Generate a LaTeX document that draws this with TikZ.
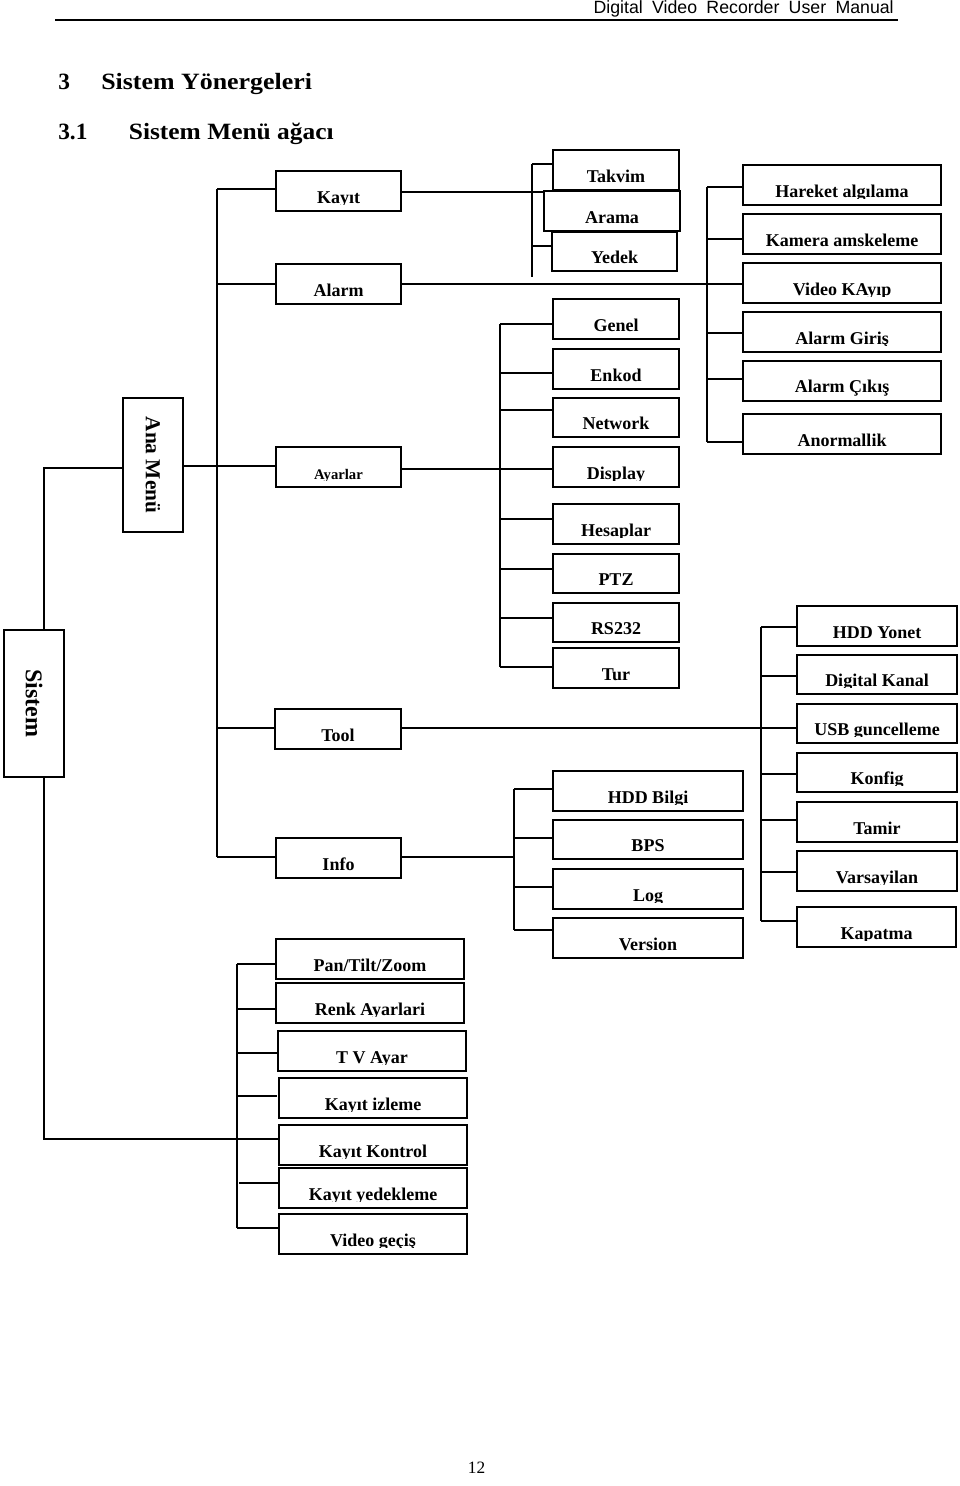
\documentclass[tikz,border=0pt]{standalone}
\usepackage{fontspec}
\usepackage{graphicx}
\setmainfont{Liberation Serif}
\newfontfamily\hdrfont{Liberation Sans}
\usetikzlibrary{calc}
\tikzset{
  boxshape/.style={draw, line width=1.3pt, inner sep=0pt},
  btxt/.style={font=\fontsize{13.5}{15}\selectfont\bfseries, inner sep=0pt},
  stxt/.style={font=\fontsize{11}{13}\selectfont\bfseries, inner sep=0pt},
  conn/.style={line width=1.1pt},
  headtxt/.style={font=\fontsize{17.5}{20}\selectfont\bfseries, inner sep=0pt, anchor=base west},
}
% #1 text style, #2 name, #3 x1, #4 y1, #5 x2, #6 y2, #7 text
\newcommand\mybox[7][btxt]{%
  \pgfmathsetmacro\bw{(#5-#3)*0.75}%
  \pgfmathsetmacro\bh{(#6-#4)*0.75}%
  \node[boxshape, minimum width=\bw pt, minimum height=\bh pt] (#2) at ({(#3+#5)/2},{(#4+#6)/2}) {};%
  \begin{scope}
    \clip (#2.north west) rectangle ($(#2.south east)+(0,-7.6)$);
    \node[#1, anchor=base] (#2t) at ($(#2.south)+(0,-8.5)$) {#7};
  \end{scope}}
\begin{document}
\begin{tikzpicture}[x=0.75pt, y=-0.75pt]
\useasboundingbox (0,0) rectangle (960,1486);

% header
\node[anchor=base east, inner sep=0pt, font=\hdrfont\fontsize{13.3}{15}\selectfont] (hdr) at (894,13.5)
  {Digital\hspace{7pt}Video\hspace{7pt}Recorder\hspace{7pt}User\hspace{7pt}Manual};
\coordinate (rl) at (55,20);
\coordinate (rr) at (898,20);
\draw[line width=1.4pt] (rl) -- (rr);

% headings
\node[headtxt] (h1n) at (58,89) {3};
\node[headtxt] (h1) at (101,89) {\scalebox{1.11}[1]{Sistem Yönergeleri}};
\node[headtxt] (h2n) at (58,139) {3.1};
\node[headtxt] (h2) at (128.6,139) {\scalebox{1.09}[1]{Sistem Menü ağacı}};

% rotated boxes
\node[boxshape, minimum width=45pt, minimum height=100.5pt] (ana) at (153,465)
  {\rotatebox{-90}{\fontsize{16}{18}\selectfont\bfseries Ana Menü}};
\node[boxshape, minimum width=45pt, minimum height=110.25pt] (sistem) at (34,703.5)
  {\rotatebox{-90}{\fontsize{18}{20}\selectfont\bfseries Sistem}};

% level 1
\mybox{kayit}{276}{171}{401}{211}{Kayıt}
\mybox{alarm}{276}{264}{401}{304}{Alarm}
\mybox[stxt]{ayarlar}{276}{447}{401}{487}{Ayarlar}
\mybox{tool}{275}{709}{401}{749}{Tool}
\mybox{info}{276}{838}{401}{878}{Info}

% Kayit children
\mybox{takvim}{553}{150}{679}{190}{Takvim}
\mybox{arama}{544}{191}{680}{231}{Arama}
\mybox{yedek}{552}{232}{677}{271}{Yedek}

% Alarm children
\mybox{hareket}{743}{165}{941}{205}{Hareket algılama}
\mybox{kamera}{743}{214}{941}{254}{Kamera amskeleme}
\mybox{video}{743}{263}{941}{303}{Video KAyıp}
\mybox{giris}{743}{312}{941}{352}{Alarm Giriş}
\node[boxshape, minimum width=148.5pt, minimum height=30pt] (cikis) at (842,381) {};
\node[btxt, anchor=base] (cikist) at ($(cikis.south)+(0,-9)$) {Alarm Çıkış};
\mybox{anorm}{743}{414}{941}{454}{Anormallik}

% Ayarlar children
\mybox{genel}{553}{299}{679}{339}{Genel}
\mybox{enkod}{553}{349}{679}{389}{Enkod}
\mybox{network}{553}{398}{679}{437}{Network}
\mybox{display}{553}{447}{679}{487}{Display}
\mybox{hesaplar}{553}{504}{679}{544}{Hesaplar}
\mybox{ptz}{553}{554}{679}{593}{PTZ}
\mybox{rs}{553}{603}{679}{642}{RS232}
\mybox{tur}{553}{648}{679}{688}{Tur}

% Tool children
\mybox{hddy}{797}{606}{957}{646}{HDD Yonet}
\mybox{digital}{797}{655}{957}{694}{Digital Kanal}
\mybox{usb}{797}{704}{957}{743}{USB guncelleme}
\mybox{konfig}{797}{753}{957}{792}{Konfig}
\mybox{tamir}{797}{802}{957}{842}{Tamir}
\mybox{vars}{797}{851}{957}{891}{Varsayilan}
\mybox{kapat}{797}{907}{956}{947}{Kapatma}

% Info children
\mybox{hddb}{553}{771}{743}{811}{HDD Bilgi}
\mybox{bps}{553}{820}{743}{859}{BPS}
\mybox{log}{553}{869}{743}{909}{Log}
\mybox{version}{553}{918}{743}{958}{Version}

% Sistem children
\mybox{ptzz}{276}{939}{464}{979}{Pan/Tilt/Zoom}
\mybox{renk}{276}{983}{464}{1023}{Renk Ayarlari}
\mybox{tv}{278}{1031}{466}{1071}{T V Ayar}
\mybox{izleme}{279}{1078}{467}{1118}{Kayıt izleme}
\mybox{kkontrol}{279}{1125}{467}{1165}{Kayıt Kontrol}
\mybox{kyedek}{279}{1168}{467}{1208}{Kayıt yedekleme}
\mybox{vgecis}{279}{1214}{467}{1254}{Video geçiş}

% page number
\node[anchor=base, inner sep=0pt, font=\fontsize{13}{15}\selectfont] (pg) at (476.5,1473) {12};

% ---- connectors ----
% Sistem
\draw[conn] (sistem.north -| 44,0) -- (44,468) -- (ana.west |- 0,468);
\draw[conn] (sistem.south -| 44,0) -- (44,1139) -- (kkontrol.west |- 0,1139);

% main trunk
\coordinate (mtop) at (217,189);
\coordinate (mbot) at (217,857);
\draw[conn] (mtop) -- (mbot);
\draw[conn] (mtop) -- (kayit.west |- mtop);
\draw[conn] (217,284) -- (alarm.west |- 0,284);
\draw[conn] (ana.east |- 0,466) -- (ayarlar.west |- 0,466);
\draw[conn] (217,728) -- (tool.west |- 0,728);
\draw[conn] (mbot) -- (info.west |- mbot);

% Kayit bracket
\coordinate (kt) at (532,164);
\coordinate (kb) at (532,277);
\draw[conn] (kt) -- (kb);
\draw[conn] (kt) -- (takvim.west |- kt);
\draw[conn] (kayit.east |- 0,192) -- (arama.west |- 0,192);
\draw[conn] (532,246) -- (yedek.west |- 0,246);

% Alarm bracket
\coordinate (at) at (707,187);
\coordinate (ab) at (707,442);
\draw[conn] (at) -- (ab);
\draw[conn] (alarm.east |- 0,284) -- (video.west |- 0,284);
\draw[conn] (at) -- (hareket.west |- at);
\draw[conn] (707,239) -- (kamera.west |- 0,239);
\draw[conn] (707,333) -- (giris.west |- 0,333);
\draw[conn] (707,379) -- (cikis.west |- 0,379);
\draw[conn] (ab) -- (anorm.west |- ab);

% Ayarlar bracket
\coordinate (yt) at (500,324);
\coordinate (yb) at (500,667);
\draw[conn] (yt) -- (yb);
\draw[conn] (ayarlar.east |- 0,469) -- (display.west |- 0,469);
\draw[conn] (yt) -- (genel.west |- yt);
\draw[conn] (500,373) -- (enkod.west |- 0,373);
\draw[conn] (500,410) -- (network.west |- 0,410);
\draw[conn] (500,519) -- (hesaplar.west |- 0,519);
\draw[conn] (500,569) -- (ptz.west |- 0,569);
\draw[conn] (500,618) -- (rs.west |- 0,618);
\draw[conn] (yb) -- (tur.west |- yb);

% Tool bracket
\coordinate (tt) at (761,627);
\coordinate (tb) at (761,921);
\draw[conn] (tt) -- (tb);
\draw[conn] (tool.east |- 0,728) -- (usb.west |- 0,728);
\draw[conn] (tt) -- (hddy.west |- tt);
\draw[conn] (761,676) -- (digital.west |- 0,676);
\draw[conn] (761,774) -- (konfig.west |- 0,774);
\draw[conn] (761,820) -- (tamir.west |- 0,820);
\draw[conn] (761,872) -- (vars.west |- 0,872);
\draw[conn] (tb) -- (kapat.west |- tb);

% Info bracket
\coordinate (it) at (514,789);
\coordinate (ib) at (514,930);
\draw[conn] (it) -- (ib);
\draw[conn] (info.east |- 0,857) -- (514,857);
\draw[conn] (it) -- (hddb.west |- it);
\draw[conn] (514,838) -- (bps.west |- 0,838);
\draw[conn] (514,887) -- (log.west |- 0,887);
\draw[conn] (ib) -- (version.west |- ib);

% Sistem children bracket
\coordinate (st) at (237,964);
\coordinate (sb) at (237,1228);
\draw[conn] (st) -- (sb);
\draw[conn] (st) -- (ptzz.west |- st);
\draw[conn] (237,1009) -- (renk.west |- 0,1009);
\draw[conn] (237,1053) -- (tv.west |- 0,1053);
\coordinate (izend) at (277,1096);
\draw[conn] (237,1096) -- (izend);
\draw[conn] (239,1183) -- (kyedek.west |- 0,1183);
\draw[conn] (sb) -- (vgecis.west |- sb);
\end{tikzpicture}
\end{document}
